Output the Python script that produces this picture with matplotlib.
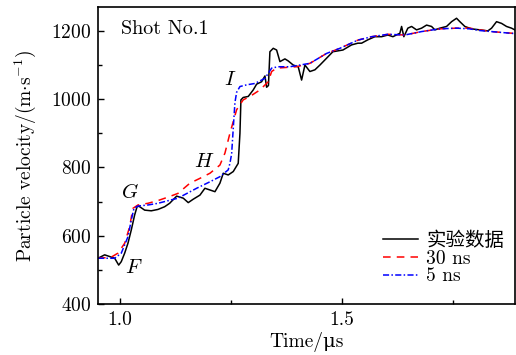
import matplotlib
matplotlib.use("Agg")
import matplotlib.pyplot as plt
from matplotlib.ticker import MultipleLocator

plt.rcParams['font.family'] = ['cmr10', 'DejaVu Serif', 'Noto Sans CJK SC']
plt.rcParams['mathtext.fontset'] = 'cm'
plt.rcParams['axes.formatter.use_mathtext'] = True

# Experimental data (实验数据)
t_exp = [0.9505, 0.9655, 0.9768, 0.9881, 0.9971, 1.0029, 1.0106, 1.018, 1.0255, 1.0331,
         1.039, 1.0444, 1.0556, 1.0705, 1.0856, 1.1007, 1.1119, 1.1277, 1.1426, 1.1538,
         1.1651, 1.1802, 1.1914, 1.2027, 1.214, 1.2252, 1.2327, 1.2439, 1.2552, 1.2664,
         1.2703, 1.2725, 1.2777, 1.289, 1.3002, 1.3079, 1.3191, 1.3266, 1.3304, 1.3345,
         1.3378, 1.3453, 1.3529, 1.3604, 1.3716, 1.3791, 1.3903, 1.4016, 1.4092, 1.4167,
         1.4279, 1.4392, 1.4505, 1.4655, 1.4797, 1.5023, 1.5218, 1.536, 1.5444, 1.5586,
         1.5743, 1.5894, 1.6036, 1.6149, 1.6306, 1.6345, 1.6396, 1.6486, 1.657, 1.6682,
         1.6795, 1.6908, 1.702, 1.7095, 1.7207, 1.7358, 1.7471, 1.7583, 1.7658, 1.777,
         1.7921, 1.8108, 1.8288, 1.8372, 1.8484, 1.8597, 1.8709, 1.8822, 1.8896]
v_exp = [534, 544, 539, 534, 514, 524, 549, 578, 617, 661,
         687, 685, 675, 673, 677, 685, 695, 716, 710, 697,
         707, 719, 739, 734, 729, 754, 783, 778, 788, 812,
         900, 998, 1005, 1008, 1027, 1044, 1051, 1068, 1035, 1040,
         1139, 1149, 1144, 1110, 1118, 1112, 1100, 1095, 1056, 1100,
         1081, 1086, 1100, 1120, 1139, 1144, 1159, 1164, 1164, 1174,
         1183, 1183, 1188, 1183, 1193, 1213, 1183, 1208, 1213, 1203,
         1208, 1217, 1213, 1203, 1208, 1213, 1227, 1237, 1227, 1213,
         1206, 1203, 1200, 1208, 1227, 1222, 1213, 1208, 1203]

# Simulation, 30 ns
t_30 = [0.9505, 0.980, 0.9955, 1.0106, 1.022, 1.029, 1.0405, 1.063, 1.0856, 1.108,
        1.1306, 1.1577, 1.180, 1.2027, 1.2252, 1.2365, 1.2477, 1.2628, 1.2777, 1.2928,
        1.3153, 1.334, 1.3417, 1.3529, 1.398, 1.428, 1.4655, 1.4955, 1.536, 1.567,
        1.6036, 1.6419, 1.6795, 1.7207, 1.758, 1.788, 1.811, 1.837, 1.885]
v_30 = [534, 537, 549, 578, 627, 680, 690, 695, 703, 713,
        724, 754, 768, 783, 807, 842, 900, 969, 998, 1008,
        1027, 1051, 1081, 1091, 1095, 1105, 1134, 1149, 1173, 1183,
        1190, 1188, 1198, 1206, 1208, 1208, 1203, 1198, 1193]

# Simulation, 5 ns
t_5 = [0.9505, 0.988, 1.003, 1.018, 1.0255, 1.0315, 1.0405, 1.063, 1.0856, 1.1306,
       1.1727, 1.2027, 1.2252, 1.2439, 1.2477, 1.2516, 1.255, 1.259, 1.2628, 1.2703,
       1.2854, 1.304, 1.3266, 1.3417, 1.3565, 1.383, 1.428, 1.4655, 1.4955, 1.536,
       1.567, 1.6036, 1.6419, 1.6795, 1.7207, 1.758, 1.788, 1.811, 1.837, 1.89]
v_5 = [534, 534, 549, 597, 646, 680, 687, 690, 695, 710,
       739, 758, 773, 793, 812, 840, 910, 990, 1020, 1037,
       1042, 1046, 1061, 1091, 1095, 1095, 1105, 1134, 1149, 1173,
       1183, 1190, 1188, 1198, 1206, 1208, 1206, 1201, 1198, 1192]

fig = plt.figure(figsize=(5.16, 3.55), dpi=100)
ax = fig.add_axes([98/516, 1 - 304/355, 417/516, 297/355])

ax.plot(t_exp, v_exp, color='black', lw=1.1, label='实验数据')
ax.plot(t_30, v_30, color='red', lw=1.1, ls=(0, (5, 4)), label='30 ns')
ax.plot(t_5, v_5, color='blue', lw=1.1, ls=(0, (4, 1.5, 1, 1.5)), label='5 ns')

ax.set_xlim(0.9505, 1.89)
ax.set_ylim(400, 1270)
ax.xaxis.set_major_locator(MultipleLocator(0.5))
ax.xaxis.set_minor_locator(MultipleLocator(0.25))
ax.yaxis.set_major_locator(MultipleLocator(200))
ax.yaxis.set_minor_locator(MultipleLocator(100))
ax.tick_params(which='both', direction='in', top=False, right=False, labelsize=14, pad=5)
ax.tick_params(which='major', length=4, width=1)
ax.tick_params(which='minor', length=3, width=1)
ax.xaxis.set_major_formatter(matplotlib.ticker.FuncFormatter(lambda x, p: f'{x:.1f}'))
for s in ax.spines.values():
    s.set_linewidth(1.2)

ax.set_xlabel('Time/μs', fontsize=14, labelpad=2)
ax.set_ylabel(r'Particle velocity/(m$\cdot$s$^{-1}$)', fontsize=14, labelpad=9)

ax.text(0.055, 0.925, 'Shot No.1', transform=ax.transAxes, fontsize=14.5, va='center', ha='left')
ax.text(1.0315, 506, r'$F$', fontsize=15, ha='center', va='center')
ax.text(1.0225, 728, r'$G$', fontsize=15, ha='center', va='center')
ax.text(1.189, 816, r'$H$', fontsize=15, ha='center', va='center')
ax.text(1.248, 1056, r'$I$', fontsize=15, ha='center', va='center')

leg = ax.legend(loc='lower right', bbox_to_anchor=(1.012, 0.01), frameon=False, fontsize=14,
                handlelength=1.8, handletextpad=0.45, labelspacing=0.0, borderaxespad=0.4)

fig.savefig('out.png', dpi=100)
